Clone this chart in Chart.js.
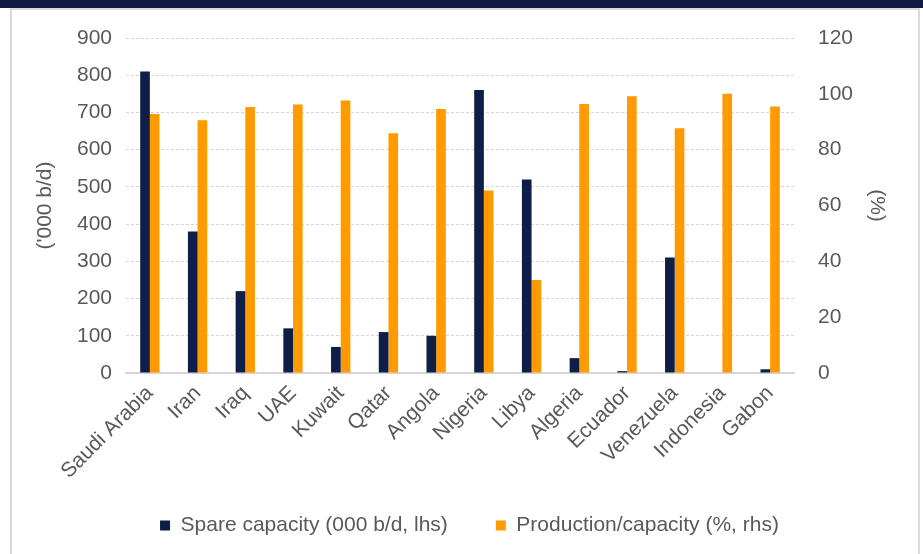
<!DOCTYPE html>
<html>
<head>
<meta charset="utf-8">
<script src="https://cdn.jsdelivr.net/npm/chart.js@4/dist/chart.umd.min.js"></script>
<style>
  html, body { margin: 0; padding: 0; background: #ffffff; }
  body { width: 923px; height: 554px; position: relative; overflow: hidden; }
  .band { position: absolute; left: 0; top: 0; width: 923px; height: 8px; background: #111c42; }
  .panel { position: absolute; left: 10px; top: 8px; width: 906px; height: 560px;
           border: 2px solid #dadada; border-bottom: none; background: #ffffff; }
  #chart { position: absolute; left: 0; top: 0; }
</style>
</head>
<body>
<div class="band"></div>
<div class="panel"></div>
<canvas id="chart" width="923" height="554"></canvas>
<script>
// OPEC members: spare capacity and production as a share of capacity
const countries = ['Saudi Arabia', 'Iran', 'Iraq', 'UAE', 'Kuwait', 'Qatar', 'Angola',
                   'Nigeria', 'Libya', 'Algeria', 'Ecuador', 'Venezuela', 'Indonesia', 'Gabon'];
const spareCapacity = [810, 380, 220, 120, 70, 110, 100, 760, 520, 40, 5, 310, 0, 10];
const productionShare = [92.8, 90.5, 95.3, 96.2, 97.6, 85.9, 94.6, 65.4, 33.3, 96.4, 99.1, 87.7, 100, 95.5];
const leftTicks = { min: 0, max: 900, step: 100 };
const rightTicks = { min: 0, max: 120, step: 20 };

const NAVY = '#0f1e46';
const ORANGE = '#ff9a00';
const TEXT = '#595959';
const GRID = '#d6d6d6';
const FONT = 'Liberation Sans, Arial, sans-serif';
const SIZE = 21;

new Chart(document.getElementById('chart'), {
  type: 'bar',
  data: {
    labels: countries,
    datasets: [
      { label: 'Spare capacity (000 b/d, lhs)', data: spareCapacity, backgroundColor: NAVY,
        yAxisID: 'yLeft', categoryPercentage: 0.405, barPercentage: 1.0 },
      { label: 'Production/capacity (%, rhs)', data: productionShare, backgroundColor: ORANGE,
        yAxisID: 'yRight', categoryPercentage: 0.405, barPercentage: 1.0 }
    ]
  },
  options: {
    responsive: false,
    animation: false,
    devicePixelRatio: 1,
    layout: { padding: { left: 33, right: 17, top: 38, bottom: 8 } },
    font: { family: FONT, size: SIZE },
    color: TEXT,
    plugins: {
      tooltip: { enabled: false },
      legend: {
        position: 'bottom',
        labels: { color: TEXT, font: { family: FONT, size: SIZE }, boxWidth: 10, boxHeight: 10, padding: 48 }
      }
    },
    scales: {
      x: {
        grid: { display: false },
        border: { display: true, color: GRID, width: 2 },
        ticks: { color: TEXT, font: { family: FONT, size: SIZE }, minRotation: 45, maxRotation: 45, padding: 0 },
        afterFit: s => {
          s.height = 94;
          // let the long rotated country names run past the axis box instead of being cut off
          s._computeLabelArea = () => undefined;
        }
      },
      yLeft: {
        position: 'left',
        min: leftTicks.min, max: leftTicks.max,
        ticks: { stepSize: leftTicks.step, color: TEXT, font: { family: FONT, size: SIZE }, padding: 14 },
        grid: { color: GRID, drawTicks: false },
        border: { display: false, dash: [3, 2] },
        title: { display: true, text: "('000 b/d)", color: TEXT, font: { family: FONT, size: SIZE }, padding: 0 },
        afterFit: s => { s.width = 126 - 33; }
      },
      yRight: {
        position: 'right',
        min: rightTicks.min, max: rightTicks.max,
        ticks: { stepSize: rightTicks.step, color: TEXT, font: { family: FONT, size: SIZE }, padding: 24 },
        grid: { drawOnChartArea: false, drawTicks: false },
        border: { display: false },
        title: { display: true, text: '(%)', color: TEXT, font: { family: FONT, size: SIZE }, padding: { top: 17 } },
        afterFit: s => { s.width = (923 - 17) - 794; }
      }
    }
  }
});
</script>
</body>
</html>
